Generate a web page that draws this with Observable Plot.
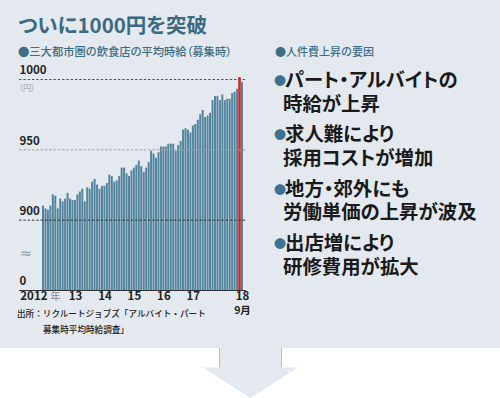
<!DOCTYPE html>
<html><head><meta charset="utf-8">
<script src="https://cdn.jsdelivr.net/npm/d3@7"></script>
<script src="https://cdn.jsdelivr.net/npm/@observablehq/plot@0.6"></script>
<style>
html,body{margin:0;padding:0;background:#fff;}
#root{position:relative;width:500px;height:398px;overflow:hidden;font-family:"Noto Sans CJK JP","Noto Sans",sans-serif;}
#panel{position:absolute;left:0;top:0;width:500px;height:348px;background:#e3e9ef;}
.t{position:absolute;white-space:nowrap;font-feature-settings:"palt";}
#chart{position:absolute;left:0;top:60px;}
#arrow{position:absolute;left:0;top:0;}
.bul{font-size:12px;color:#3e7190;display:inline-block;width:11px;vertical-align:1px;font-feature-settings:normal;}
.l2{display:inline-block;padding-left:9px;}
</style></head>
<body><div id="root">
<div id="panel"></div>
<svg id="arrow" width="500" height="398">
  <polygon points="219,348 282,348 282,367.5 298,367.5 250.5,398 203,367.5 219,367.5" fill="#e3e9ef"/>
  <line x1="219.5" y1="348" x2="219.5" y2="367.5" stroke="#b9c0c6" stroke-width="1"/>
  <line x1="281.5" y1="348" x2="281.5" y2="367.5" stroke="#b9c0c6" stroke-width="1"/>
</svg>
<div id="chart"></div>
</div>
<script>
const titleText = "ついに1000円を突破";
const subtitleText = "●三大都市圏の飲食店の平均時給（募集時）";
const unitText = "（円）";
const breakText = "≈";
const sourceLines = ["出所：リクルートジョブズ「アルバイト・パート", "募集時平均時給調査」"];
const factorsHeading = "●人件費上昇の要因";
const factors = [
  ["パート・アルバイトの", "時給が上昇"],
  ["求人難により", "採用コストが増加"],
  ["地方・郊外にも", "労働単価の上昇が波及"],
  ["出店増により", "研修費用が拡大"]
];

const months = [
 "2011-12",
 "2012-01","2012-02","2012-03","2012-04","2012-05","2012-06","2012-07","2012-08","2012-09","2012-10","2012-11","2012-12",
 "2013-01","2013-02","2013-03","2013-04","2013-05","2013-06","2013-07","2013-08","2013-09","2013-10","2013-11","2013-12",
 "2014-01","2014-02","2014-03","2014-04","2014-05","2014-06","2014-07","2014-08","2014-09","2014-10","2014-11","2014-12",
 "2015-01","2015-02","2015-03","2015-04","2015-05","2015-06","2015-07","2015-08","2015-09","2015-10","2015-11","2015-12",
 "2016-01","2016-02","2016-03","2016-04","2016-05","2016-06","2016-07","2016-08","2016-09","2016-10","2016-11","2016-12",
 "2017-01","2017-02","2017-03","2017-04","2017-05","2017-06","2017-07","2017-08","2017-09","2017-10","2017-11","2017-12",
 "2018-01","2018-02","2018-03","2018-04","2018-05","2018-06","2018-07","2018-08","2018-09"
];
const wages = [
 910,
 908, 907, 910, 918, 917, 908, 915, 913, 915, 919, 915, 914,
 914, 918, 920, 922, 913, 923, 922, 927, 929, 925, 922, 924,
 924, 926, 932, 931, 927, 928, 931, 937, 937, 933, 931, 935,
 937, 939, 942, 938, 934, 937, 941, 949, 947, 944, 948, 952,
 952, 952, 954, 954, 954, 949, 953, 956, 964, 965, 964, 962,
 967, 968, 971, 975, 978, 973, 974, 976, 985, 988, 988, 985,
 989, 985, 986, 986, 990, 991, 993, 1001, 998
];
const highlightMonth = "2018-08";
const yTicks = [850, 900, 950, 1000];
const yTickLabels = ["0", "900", "950", "1000"];
const yearTickMonths = ["2013-01","2014-01","2015-01","2016-01","2017-01","2018-09"];
const yearTickLabels = ["13","14","15","16","17","18"];
const firstYearMonth = "2012-01";
const firstYearLabel = "2012";
const yearUnit = "年";
const lastMonthLabel = "9月";

const data = months.map((m, i) => ({month: m, wage: wages[i]}));
const font = '"Noto Sans CJK JP","Noto Sans",sans-serif';

const chart = Plot.plot({
  width: 260, height: 270,
  marginLeft: 19, marginRight: 14, marginTop: 19, marginBottom: 40,
  style: {background: "transparent", fontFamily: font, overflow: "visible"},
  x: {type: "band", domain: months, range: [42, 243], paddingInner: 0.18, paddingOuter: 0, axis: null},
  y: {domain: [850, 1000], axis: null},
  marks: [
    Plot.barY(data.filter(d => d.month !== highlightMonth), {x: "month", y1: 850, y2: "wage", fill: "#55869e"}),
    Plot.barY(data.filter(d => d.month === highlightMonth), {x: "month", y1: 850, y2: "wage",
      fill: "#e0262c", stroke: "#b81d23", strokeWidth: 0.5}),
    Plot.ruleY([1000], {stroke: "#555", strokeWidth: 1, strokeDasharray: "2.5,1.8"}),
    Plot.ruleY([950], {stroke: "#9aa3aa", strokeWidth: 1, strokeDasharray: "2.5,1.8"}),
    Plot.ruleY([900], {stroke: "#333", strokeWidth: 1, strokeDasharray: "2.5,1.8"}),
    Plot.ruleY([850], {stroke: "#333", strokeWidth: 1.2}),
    Plot.text(yTicks, {y: d => d, text: (d, i) => yTickLabels[i], frameAnchor: "left",
      textAnchor: "start", dy: -9, fontSize: 11.5, fontWeight: "bold", fill: "#222"}),
    Plot.text([firstYearMonth], {x: d => d, text: () => firstYearLabel, frameAnchor: "bottom",
      textAnchor: "end", dx: 1.5, dy: 9.5, fontSize: 11.5, fontWeight: "bold", fill: "#222"}),
    Plot.text([firstYearMonth], {x: d => d, text: () => yearUnit, frameAnchor: "bottom",
      dx: 9.5, dy: 9.5, fontSize: 10.5, fill: "#8a8a8a"}),
    Plot.text(yearTickMonths, {x: d => d, text: (d, i) => yearTickLabels[i], frameAnchor: "bottom",
      dy: 9.5, fontSize: 11.5, fontWeight: "bold", fill: "#222"}),
    Plot.text([months[months.length - 1]], {x: d => d, text: () => lastMonthLabel, frameAnchor: "bottom",
      dy: 23.5, fontSize: 10.5, fontWeight: "bold", fill: "#222"})
  ]
});
document.getElementById("chart").appendChild(chart);

const root = document.getElementById("root");
function addText(text, left, centerY, size, opts = {}) {
  const el = document.createElement("div");
  el.className = "t";
  el.textContent = text;
  el.style.left = left + "px";
  el.style.fontSize = size + "px";
  el.style.lineHeight = size + "px";
  el.style.top = (centerY - size / 2 - size * 0.06) + "px";
  el.style.color = opts.color || "#1a1a1a";
  el.style.fontWeight = opts.weight || "normal";
  if (opts.noPalt) el.style.fontFeatureSettings = "normal";
  if (opts.family) el.style.fontFamily = opts.family;
  root.appendChild(el);
  return el;
}
addText(titleText, 18, 25, 20.5, {color: "#3b6a81", weight: "bold"});
addText(subtitleText, 18, 52, 11.3, {color: "#3e6e85", weight: "500"});
addText(unitText, 19, 88, 8, {color: "#9aa0a5"});
addText(breakText, 20, 254, 14, {color: "#8a96a0", family: "DejaVu Sans"});
addText(sourceLines[0], 17, 314.3, 8.6, {color: "#222", weight: "500", noPalt: true});
addText(sourceLines[1], 43, 330, 8.6, {color: "#222", weight: "500", noPalt: true});
addText(factorsHeading, 275, 51.7, 11, {color: "#3e6e85", weight: "500", noPalt: true});

// factor items: one text block per item (bullet + two lines)
factors.forEach((lines, k) => {
  const c = 80 + k * 54.4;
  const size = 19.4, lh = 21.5;
  const el = document.createElement("div");
  el.className = "t";
  el.style.left = "274px";
  el.style.fontSize = size + "px";
  el.style.lineHeight = lh + "px";
  el.style.fontWeight = "bold";
  el.style.color = "#1a1a1a";
  el.style.top = (c - lh / 2 - size * 0.06) + "px";
  const b = document.createElement("span");
  b.className = "bul"; b.textContent = "●";
  el.appendChild(b);
  el.appendChild(document.createTextNode(lines[0]));
  el.appendChild(document.createElement("br"));
  const s = document.createElement("span");
  s.className = "l2"; s.textContent = lines[1];
  el.appendChild(s);
  root.appendChild(el);
});
</script>
</body></html>
